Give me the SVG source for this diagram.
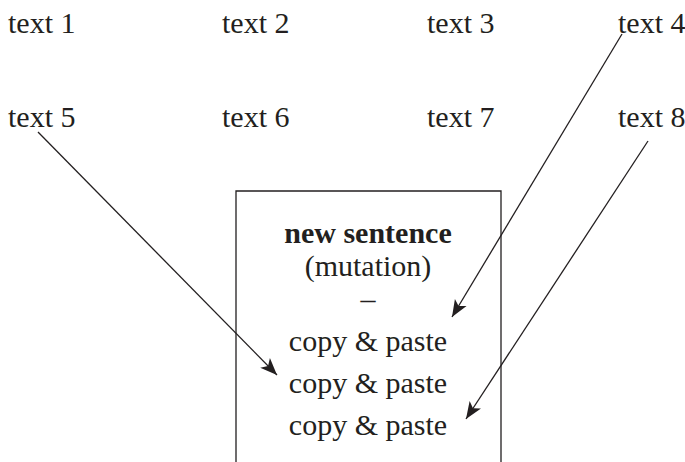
<svg xmlns="http://www.w3.org/2000/svg" width="685" height="462" viewBox="0 0 685 462">
<style>
text{font-family:"Liberation Serif","Times New Roman",serif;font-size:30px;fill:#231f20}
.c{text-anchor:middle}
.b{font-weight:bold}
.ln{stroke:#231f20;stroke-width:1.3;fill:none}
</style>
<defs>
<marker id="ah" viewBox="0 0 10 10" refX="10" refY="5" markerWidth="17" markerHeight="17" markerUnits="userSpaceOnUse" orient="auto">
<path d="M0,1 L10,5 L0,9 L2.5,5 Z" fill="#231f20"/>
</marker>
</defs>
<rect width="685" height="462" fill="#fff"/>
<g id="t1"><text x="8" y="33">text 1</text></g>
<g id="t2"><text x="222" y="33">text 2</text></g>
<g id="t3"><text x="427" y="33">text 3</text></g>
<g id="t4"><text x="618" y="33">text 4</text></g>
<g id="t5"><text x="8" y="127">text 5</text></g>
<g id="t6"><text x="222" y="127">text 6</text></g>
<g id="t7"><text x="427" y="127">text 7</text></g>
<g id="t8"><text x="618" y="127">text 8</text></g>
<g id="box">
<path class="ln" d="M236,462 V191 H501 V462"/>
<text class="c b" x="368" y="243">new sentence</text>
<text class="c" x="368" y="276">(mutation)</text>
<text class="c" x="368" y="309">–</text>
<text class="c" x="368" y="351">copy &amp; paste</text>
<text class="c" x="368" y="393">copy &amp; paste</text>
<text class="c" x="368" y="435">copy &amp; paste</text>
</g>
<g id="connectors">
<line class="ln" x1="622" y1="34" x2="452" y2="317" marker-end="url(#ah)"/>
<line class="ln" x1="38" y1="132" x2="277" y2="375" marker-end="url(#ah)"/>
<line class="ln" x1="648" y1="141" x2="466" y2="419" marker-end="url(#ah)"/>
</g>
</svg>
